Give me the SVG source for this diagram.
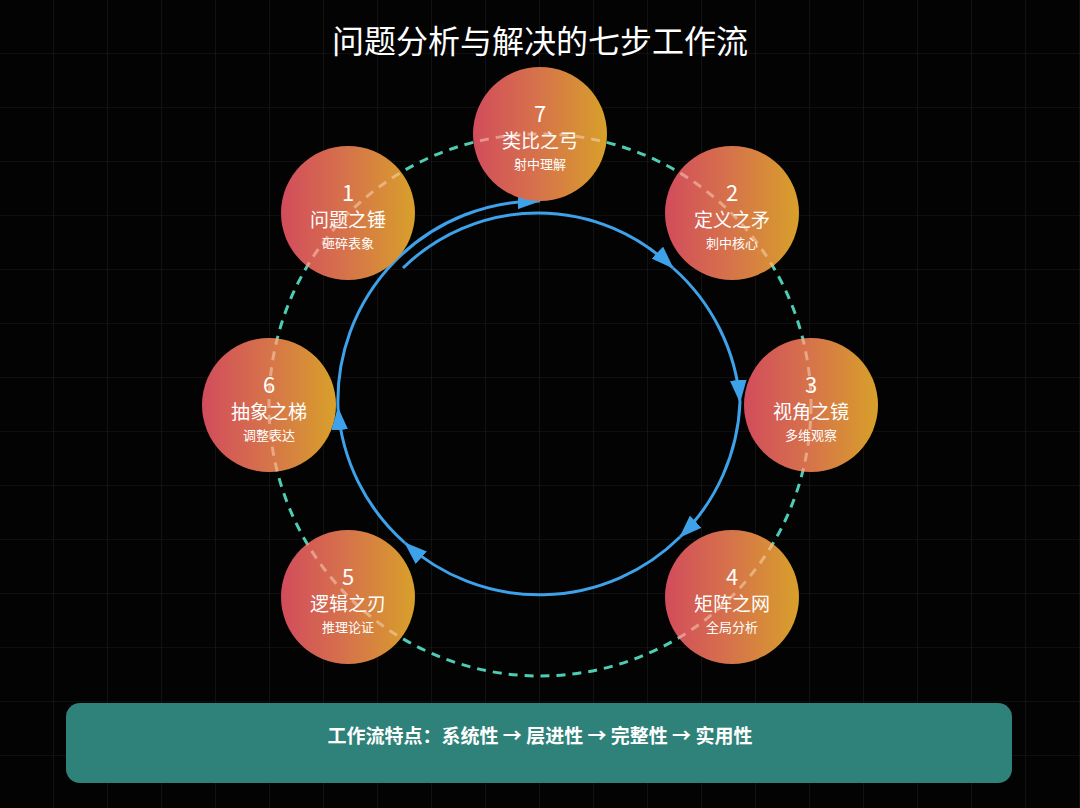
<svg xmlns="http://www.w3.org/2000/svg" width="1080" height="808" viewBox="0 0 1080 808">
  <defs>
    <pattern id="grid" width="54" height="54" patternUnits="userSpaceOnUse">
      <path d="M54 0 V54 M0 54 H54" fill="none" stroke="#1c1c1c" stroke-width="1.2"/>
    </pattern>
    <linearGradient id="nodeGrad" x1="0" y1="0" x2="1" y2="0">
      <stop offset="0" stop-color="#d24c5c"/>
      <stop offset="0.5" stop-color="#d6744a"/>
      <stop offset="1" stop-color="#d8a02a"/>
    </linearGradient>
    <marker id="arrow" viewBox="0 0 22 16" refX="21" refY="8" markerWidth="23" markerHeight="17" markerUnits="userSpaceOnUse" orient="auto">
      <path d="M0 0 L22 8 L0 16 Z" fill="#3ea2ea"/>
    </marker>
    <clipPath id="nodeClip">
      <circle cx="540" cy="134" r="67"/>
      <circle cx="348" cy="213" r="67"/>
      <circle cx="732" cy="213" r="67"/>
      <circle cx="811" cy="405" r="67"/>
      <circle cx="732" cy="597" r="67"/>
      <circle cx="348" cy="597" r="67"/>
      <circle cx="269" cy="405" r="67"/>
    </clipPath>
    <style>
      .node circle { fill: url(#nodeGrad); }
      .num { font-family: "Noto Sans CJK SC", "Noto Sans", sans-serif; font-size: 22px; fill: #ffffff; text-anchor: middle; }
      .ttl { font-family: "Noto Sans CJK SC", sans-serif; font-size: 19px; fill: #ffffff; text-anchor: middle; }
      .sub { font-family: "Noto Sans CJK SC", sans-serif; font-size: 13px; fill: #ffffff; text-anchor: middle; }
      .flow { fill: none; stroke: #3ea2ea; stroke-width: 3; marker-end: url(#arrow); }
      .dash { fill: none; stroke-width: 3; stroke-dasharray: 9 7; }
    </style>
  </defs>

  <rect width="1080" height="808" fill="#030303"/>
  <rect width="1080" height="808" fill="url(#grid)"/>

  <text x="540" y="53" font-family="Noto Sans CJK SC, sans-serif" font-size="32" fill="#ffffff" text-anchor="middle">问题分析与解决的七步工作流</text>

  <g id="cycle-ring">
    <circle class="dash" cx="540" cy="405" r="271" stroke="#4ecdb4"/>
  </g>

  <g id="connectors">
    <path class="flow" d="M403 268 A193 193 0 0 1 673 268"/>
    <path class="flow" d="M673 268 A200 200 0 0 1 740 402"/>
    <path class="flow" d="M740 402 A200 200 0 0 1 680 537"/>
    <path class="flow" d="M680 537 A200 200 0 0 1 405 543"/>
    <path class="flow" d="M405 543 A200 200 0 0 1 338 408"/>
    <path class="flow" d="M338 408 A200 200 0 0 1 540 201"/>
  </g>

  <g id="node-7" class="node">
    <circle cx="540" cy="134" r="67"/>
    <text class="num" x="540" y="122">7</text>
    <text class="ttl" x="540" y="148">类比之弓</text>
    <text class="sub" x="540" y="169">射中理解</text>
  </g>
  <g id="node-1" class="node">
    <circle cx="348" cy="213" r="67"/>
    <text class="num" x="348" y="201">1</text>
    <text class="ttl" x="348" y="227">问题之锤</text>
    <text class="sub" x="348" y="248">砸碎表象</text>
  </g>
  <g id="node-2" class="node">
    <circle cx="732" cy="213" r="67"/>
    <text class="num" x="732" y="201">2</text>
    <text class="ttl" x="732" y="227">定义之矛</text>
    <text class="sub" x="732" y="248">刺中核心</text>
  </g>
  <g id="node-3" class="node">
    <circle cx="811" cy="405" r="67"/>
    <text class="num" x="811" y="393">3</text>
    <text class="ttl" x="811" y="419">视角之镜</text>
    <text class="sub" x="811" y="440">多维观察</text>
  </g>
  <g id="node-4" class="node">
    <circle cx="732" cy="597" r="67"/>
    <text class="num" x="732" y="585">4</text>
    <text class="ttl" x="732" y="611">矩阵之网</text>
    <text class="sub" x="732" y="632">全局分析</text>
  </g>
  <g id="node-5" class="node">
    <circle cx="348" cy="597" r="67"/>
    <text class="num" x="348" y="585">5</text>
    <text class="ttl" x="348" y="611">逻辑之刃</text>
    <text class="sub" x="348" y="632">推理论证</text>
  </g>
  <g id="node-6" class="node">
    <circle cx="269" cy="405" r="67"/>
    <text class="num" x="269" y="393">6</text>
    <text class="ttl" x="269" y="419">抽象之梯</text>
    <text class="sub" x="269" y="440">调整表达</text>
  </g>

  <g id="ring-overlay" clip-path="url(#nodeClip)">
    <circle class="dash" cx="540" cy="405" r="271" stroke="#ffe6cc" stroke-opacity="0.45"/>
  </g>

  <g id="summary">
    <rect x="66" y="703" width="946" height="80" rx="14" fill="#2e8279"/>
    <text x="540" y="743" font-family="Noto Sans CJK SC, sans-serif" font-size="19" font-weight="bold" fill="#ffffff" text-anchor="middle">工作流特点：系统性 → 层进性 → 完整性 → 实用性</text>
  </g>
</svg>
